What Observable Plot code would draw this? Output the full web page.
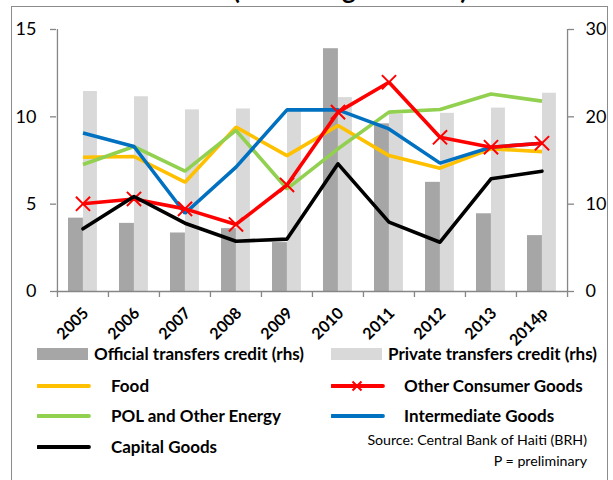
<!DOCTYPE html>
<html>
<head>
<meta charset="utf-8">
<script src="https://cdn.jsdelivr.net/npm/d3@7"></script>
<script src="https://cdn.jsdelivr.net/npm/@observablehq/plot@0.6"></script>
<style>
  html, body { margin: 0; padding: 0; background: #fff; }
  body { width: 613px; height: 480px; position: relative; overflow: hidden; font-family: Lato, "Open Sans", sans-serif; }
  #frame { position: absolute; left: 11px; top: 6px; width: 597px; height: 490px; border: 1.5px solid #8c8c8c; box-sizing: border-box; }
  #title { position: absolute; left: 0; width: 700px; top: -27px; text-align: center; font: bold 26px Lato, sans-serif; color: #000; }
  #chart { position: absolute; left: 0; top: 0; }
  .lg { position: absolute; font: bold 17px Lato, sans-serif; color: #000; white-space: nowrap; line-height: 20px; }
  .sw { position: absolute; }
  .src { position: absolute; right: 26px; font: 14.2px Lato, sans-serif; color: #000; white-space: nowrap; text-align: right; }
</style>
</head>
<body>
<div id="title">(Percentage of GDP)</div>
<div id="frame"></div>
<div id="chart"></div>
<div id="legend"></div>
<script>
// ---- data ----
const years = ["2005", "2006", "2007", "2008", "2009", "2010", "2011", "2012", "2013", "2014p"];
const officialTransfers = [8.4, 7.8, 6.7, 7.2, 5.6, 27.8, 19.2, 12.5, 8.9, 6.4];   // rhs
const privateTransfers  = [22.9, 22.3, 20.8, 20.9, 20.9, 22.2, 20.3, 20.4, 21.0, 22.7]; // rhs
const food          = [7.69, 7.73, 6.26, 9.41, 7.78, 9.50, 7.78, 7.06, 8.17, 8.01];
const otherConsumer = [5.02, 5.30, 4.73, 3.84, 6.10, 10.27, 11.98, 8.83, 8.26, 8.49];
const polEnergy     = [7.27, 8.30, 6.89, 9.22, 5.88, 8.17, 10.27, 10.42, 11.31, 10.90];
const intermediate  = [9.08, 8.30, 4.48, 7.12, 10.40, 10.40, 9.31, 7.35, 8.26, 8.49];
const capital       = [3.59, 5.44, 3.91, 2.88, 3.00, 7.31, 3.97, 2.82, 6.45, 6.89];
const leftTicks  = [0, 5, 10, 15];
const rightTicks = [0, 10, 20, 30];

const seriesNames = ["Food", "Other Consumer Goods", "POL and Other Energy", "Intermediate Goods", "Capital Goods"];
const colors = {
  "Food": "#FFC000",
  "Other Consumer Goods": "#FF0000",
  "POL and Other Energy": "#92D050",
  "Intermediate Goods": "#0070C0",
  "Capital Goods": "#000000"
};
const barColors = { official: "#A6A6A6", private: "#D9D9D9" };

const bars = years.map((y, i) => ({ year: y, official: officialTransfers[i], private: privateTransfers[i] }));
const toRows = (name, arr) => years.map((y, i) => ({ year: y, value: arr[i], series: name }));
const lineData = {
  "Food": toRows("Food", food),
  "Other Consumer Goods": toRows("Other Consumer Goods", otherConsumer),
  "POL and Other Energy": toRows("POL and Other Energy", polEnergy),
  "Intermediate Goods": toRows("Intermediate Goods", intermediate),
  "Capital Goods": toRows("Capital Goods", capital)
};
const drawOrder = ["Food", "POL and Other Energy", "Intermediate Goods", "Other Consumer Goods"];

const W = 613, H = 345;
const axisColor = "#868686";
const step = (W - 56 - 46) / years.length;

const chart = Plot.plot({
  width: W,
  height: H,
  marginLeft: 56,
  marginRight: 46,
  marginTop: 29,
  marginBottom: H - 291,
  style: { fontFamily: "Lato, sans-serif", background: "transparent", overflow: "visible" },
  x: { type: "band", domain: years, padding: 0, axis: null },
  y: { domain: [0, 15], axis: null },
  marks: [
    // bars on right axis (rhs values halved onto lhs scale)
    Plot.barY(bars, { x: "year", y: d => d.official / 2, fill: barColors.official, insetLeft: 11, insetRight: step - 26 }),
    Plot.barY(bars, { x: "year", y: d => d.private / 2, fill: barColors.private, insetLeft: 26, insetRight: step - 40 }),
    // axis lines
    Plot.ruleY([0], { stroke: axisColor, strokeWidth: 1.3 }),
    Plot.ruleX([years[0]], { x: d => d, y1: 0, y2: 15, dx: -step / 2, stroke: axisColor, strokeWidth: 1.3 }),
    Plot.ruleX([years[years.length - 1]], { x: d => d, y1: 0, y2: 15, dx: step / 2, stroke: axisColor, strokeWidth: 1.3 }),
    // x tick marks at band boundaries
    Plot.axisX({ ticks: years, tickSize: 6, dx: -step / 2, tickFormat: () => "", label: null, stroke: axisColor, strokeWidth: 1.3 }),
    Plot.axisX({ ticks: [years[years.length - 1]], tickSize: 6, dx: step / 2, tickFormat: () => "", label: null, stroke: axisColor, strokeWidth: 1.3 }),
    // x labels
    Plot.axisX({ ticks: years, tickSize: 0, tickPadding: 19, dx: 3, tickRotate: -45, label: null, fontSize: 16, fontWeight: "bold", fill: "#000" }),
    // y axes
    Plot.axisY({ anchor: "left", ticks: leftTicks, tickSize: 6, tickPadding: 14, label: null, fontSize: 18, stroke: axisColor, strokeWidth: 1.3, fill: "#000" }),
    Plot.axisY({ anchor: "right", ticks: rightTicks.map(v => v / 2), tickFormat: (d, i) => rightTicks[i], tickSize: 6, tickPadding: 12, label: null, fontSize: 18, stroke: axisColor, strokeWidth: 1.3, fill: "#000" }),
    // lines
    ...drawOrder.map(name => Plot.line(lineData[name], { x: "year", y: "value", stroke: colors[name], strokeWidth: 3.6, strokeLinejoin: "miter", strokeLinecap: "butt" })),
    Plot.dot(lineData["Other Consumer Goods"], { x: "year", y: "value", symbol: "times", r: 6.5, stroke: "#FF0000", strokeWidth: 2 }),
    Plot.line(lineData["Capital Goods"], { x: "year", y: "value", stroke: colors["Capital Goods"], strokeWidth: 3.6 })
  ]
});
document.getElementById("chart").appendChild(chart);

// ---- legend ----
const legend = document.getElementById("legend");
const legendItems = [
  { label: "Official transfers credit (rhs)", kind: "bar", color: barColors.official, sx: 37, tx: 94, y: 354 },
  { label: "Private transfers credit (rhs)", kind: "bar", color: barColors.private, sx: 331, tx: 388, y: 354 },
  { label: "Food", kind: "line", color: colors["Food"], sx: 37, tx: 111, y: 386 },
  { label: "Other Consumer Goods", kind: "marker", color: colors["Other Consumer Goods"], sx: 331, tx: 404, y: 386 },
  { label: "POL and Other Energy", kind: "line", color: colors["POL and Other Energy"], sx: 37, tx: 111, y: 416 },
  { label: "Intermediate Goods", kind: "line", color: colors["Intermediate Goods"], sx: 331, tx: 404, y: 416 },
  { label: "Capital Goods", kind: "line", color: colors["Capital Goods"], sx: 37, tx: 111, y: 447 }
];
for (const it of legendItems) {
  const sw = document.createElementNS("http://www.w3.org/2000/svg", "svg");
  sw.setAttribute("class", "sw");
  sw.setAttribute("width", 54);
  sw.setAttribute("height", 16);
  sw.style.left = it.sx + "px";
  sw.style.top = (it.y - 8) + "px";
  if (it.kind === "bar") {
    sw.innerHTML = `<rect x="0" y="2" width="51" height="12" fill="${it.color}"/>`;
  } else {
    sw.innerHTML = `<line x1="1" x2="52" y1="8" y2="8" stroke="${it.color}" stroke-width="3.8" stroke-linecap="round"/>` +
      (it.kind === "marker" ? `<path d="M21.5,3.5L30.5,12.5M30.5,3.5L21.5,12.5" stroke="${it.color}" stroke-width="2"/>` : "");
  }
  legend.appendChild(sw);
  const t = document.createElement("div");
  t.className = "lg";
  t.textContent = it.label;
  t.style.left = it.tx + "px";
  t.style.top = (it.y - 10) + "px";
  legend.appendChild(t);
}
const notes = ["Source: Central Bank of Haiti (BRH)", "P = preliminary"];
notes.forEach((n, i) => {
  const d = document.createElement("div");
  d.className = "src";
  d.textContent = n;
  d.style.top = (431 + i * 21) + "px";
  legend.appendChild(d);
});
</script>
</body>
</html>
